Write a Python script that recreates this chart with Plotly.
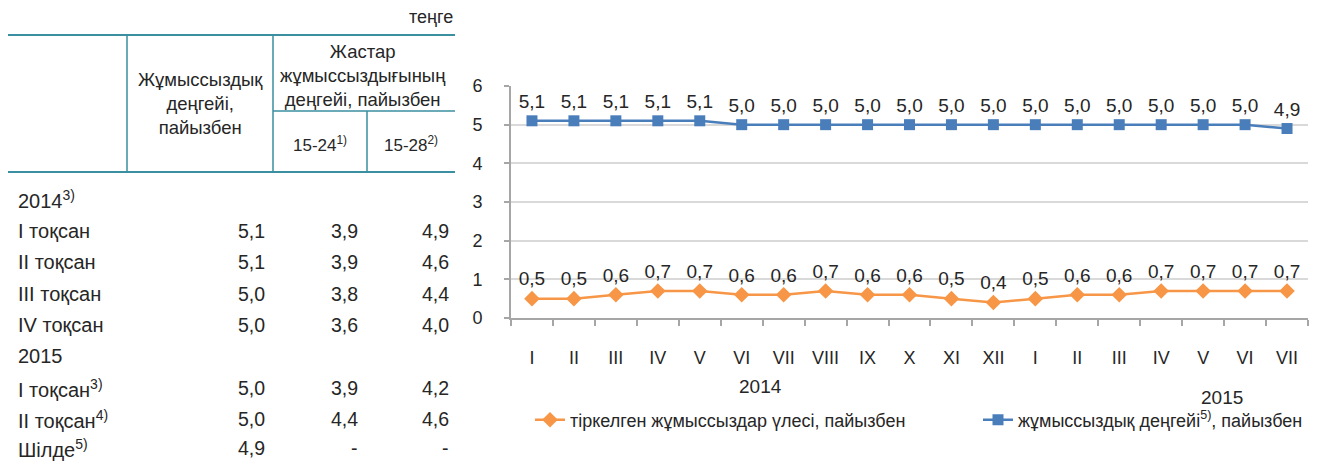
import plotly.graph_objects as go

W, H = 1321, 461

# ---------------- data ----------------
months = ["I", "II", "III", "IV", "V", "VI", "VII", "VIII", "IX", "X", "XI", "XII",
          "I", "II", "III", "IV", "V", "VI", "VII"]
registered_share = [0.5, 0.5, 0.6, 0.7, 0.7, 0.6, 0.6, 0.7, 0.6, 0.6, 0.5, 0.4,
                    0.5, 0.6, 0.6, 0.7, 0.7, 0.7, 0.7]
unemployment_rate = [5.1, 5.1, 5.1, 5.1, 5.1, 5.0, 5.0, 5.0, 5.0, 5.0, 5.0, 5.0,
                     5.0, 5.0, 5.0, 5.0, 5.0, 5.0, 4.9]
year_labels = ["2014", "2015"]

table_rows = ["2014<sup>3)</sup>", "I тоқсан", "II тоқсан", "III тоқсан", "IV тоқсан",
              "2015", "I тоқсан<sup>3)</sup>", "II тоқсан<sup>4)</sup>", "Шілде<sup>5)</sup>"]
row_is_group = [True, False, False, False, False, True, False, False, False]
col_unemployment = [None, 5.1, 5.1, 5.0, 5.0, None, 5.0, 5.0, 4.9]
col_youth_15_24 = [None, 3.9, 3.9, 3.8, 3.6, None, 3.9, 4.4, None]
col_youth_15_28 = [None, 4.9, 4.6, 4.4, 4.0, None, 4.2, 4.6, None]

hdr_unit = "теңге"
hdr_col1 = "Жұмыссыздық<br>деңгейі,<br>пайызбен"
hdr_youth = "Жастар<br>жұмыссыздығының<br>деңгейі, пайызбен"
hdr_15_24 = "15-24<sup>1)</sup>"
hdr_15_28 = "15-28<sup>2)</sup>"

name_share = "тіркелген жұмыссыздар үлесі, пайызбен"
name_rate = "жұмыссыздық деңгейі<sup>5)</sup>, пайызбен"

# ---------------- style ----------------
FONT = "Liberation Sans, Arial, sans-serif"
TXT = "#262626"
BLUE = "#4a7ebb"
ORANGE = "#f79646"
TEAL = "#3a8fa0"
AXC = "#a6a6a6"
GRID = "#d9d9d9"


def px(x):
    return x / W


def py(y):
    return 1 - y / H


def fmt(v):
    return f"{v:.1f}".replace(".", ",")


x = list(range(len(months)))

fig = go.Figure()
fig.add_trace(go.Scatter(
    x=x, y=registered_share, name=name_share, mode="lines+markers+text",
    line=dict(color=ORANGE, width=2.5),
    marker=dict(symbol="diamond", size=12, color=ORANGE),
    text=[fmt(v) for v in registered_share], textposition="top center",
    textfont=dict(size=19, color=TXT, family=FONT), cliponaxis=False,
))
fig.add_trace(go.Scatter(
    x=x, y=unemployment_rate, name=name_rate, mode="lines+markers+text",
    line=dict(color=BLUE, width=2.5),
    marker=dict(symbol="square", size=11, color=BLUE),
    text=[fmt(v) for v in unemployment_rate], textposition="top center",
    textfont=dict(size=19, color=TXT, family=FONT), cliponaxis=False,
))

annotations = []
shapes = []


def note(xp, yp, text, xanchor="center", size=18):
    annotations.append(dict(xref="paper", yref="paper", x=px(xp), y=py(yp), text=text,
                            xanchor=xanchor, yanchor="middle", showarrow=False,
                            font=dict(size=size, color=TXT, family=FONT)))


# ---- table text ----
note(455, 17, hdr_unit, "right", 18)
note(200, 103, hdr_col1, "center", 18.5)
note(363, 75, hdr_youth, "center", 18.5)
note(320, 144, hdr_15_24, "center", 17)
note(411, 144, hdr_15_28, "center", 17)

row_y = [199, 231, 262, 294, 325, 356, 388, 419, 448]
col_right = [267, 360, 451]
for i, label in enumerate(table_rows):
    note(16, row_y[i], label, "left", 20)
    if row_is_group[i]:
        continue
    for cx, col in zip(col_right, [col_unemployment, col_youth_15_24, col_youth_15_28]):
        v = col[i]
        note(cx, row_y[i], fmt(v) if v is not None else "-", "right", 19.5)


# ---- table lines ----
def seg(x0, y0, x1, y1, w=2):
    shapes.append(dict(type="line", xref="paper", yref="paper",
                       x0=px(x0), y0=py(y0), x1=px(x1), y1=py(y1),
                       line=dict(color=TEAL, width=w)))


seg(8, 35, 455, 35)
seg(8, 172, 455, 172)
seg(127, 35, 127, 172, 1.5)
seg(273, 35, 273, 172, 1.5)
seg(273, 111, 455, 111, 1.5)
seg(367, 111, 367, 172, 1.5)

# ---- year labels under the axis ----
note(760, 386, year_labels[0], "center", 19)
note(1222, 397, year_labels[1], "center", 19)

fig.update_layout(
    width=W, height=H, autosize=False,
    margin=dict(l=0, r=0, t=0, b=0, autoexpand=False),
    paper_bgcolor="white", plot_bgcolor="white",
    font=dict(family=FONT, color=TXT, size=18),
    showlegend=True,
    legend=dict(orientation="h", x=px(530), xanchor="left", y=py(420), yanchor="middle",
                entrywidth=403, entrywidthmode="pixels", font=dict(size=18),
                bgcolor="rgba(0,0,0,0)"),
    annotations=annotations,
    shapes=shapes,
    xaxis=dict(
        domain=[px(511), px(1308)], range=[-0.5, len(months) - 0.5],
        tickmode="array", tickvals=x, ticktext=months,
        ticks="", showgrid=False, zeroline=False,
        showline=True, linecolor=AXC, linewidth=2,
        tickfont=dict(size=18, color=TXT), ticklabelstandoff=22,
        minor=dict(tickmode="array", tickvals=[i - 0.5 for i in range(len(months) + 1)],
                   ticks="outside", ticklen=6, tickcolor=AXC, tickwidth=2, showgrid=False),
        fixedrange=True, automargin=False,
    ),
    yaxis=dict(
        domain=[py(318), py(86)], range=[0, 6], dtick=1,
        showgrid=True, gridcolor=GRID, gridwidth=2, zeroline=False,
        showline=True, linecolor=AXC, linewidth=2,
        ticks="outside", ticklen=5, tickcolor=AXC, tickwidth=2,
        tickfont=dict(size=18, color=TXT), ticklabelstandoff=18,
        fixedrange=True, automargin=False,
    ),
)

fig.write_html(
    "out.html",
    config={"displayModeBar": False},
    post_script="document.body.style.margin='0';document.body.style.overflow='hidden';",
)
